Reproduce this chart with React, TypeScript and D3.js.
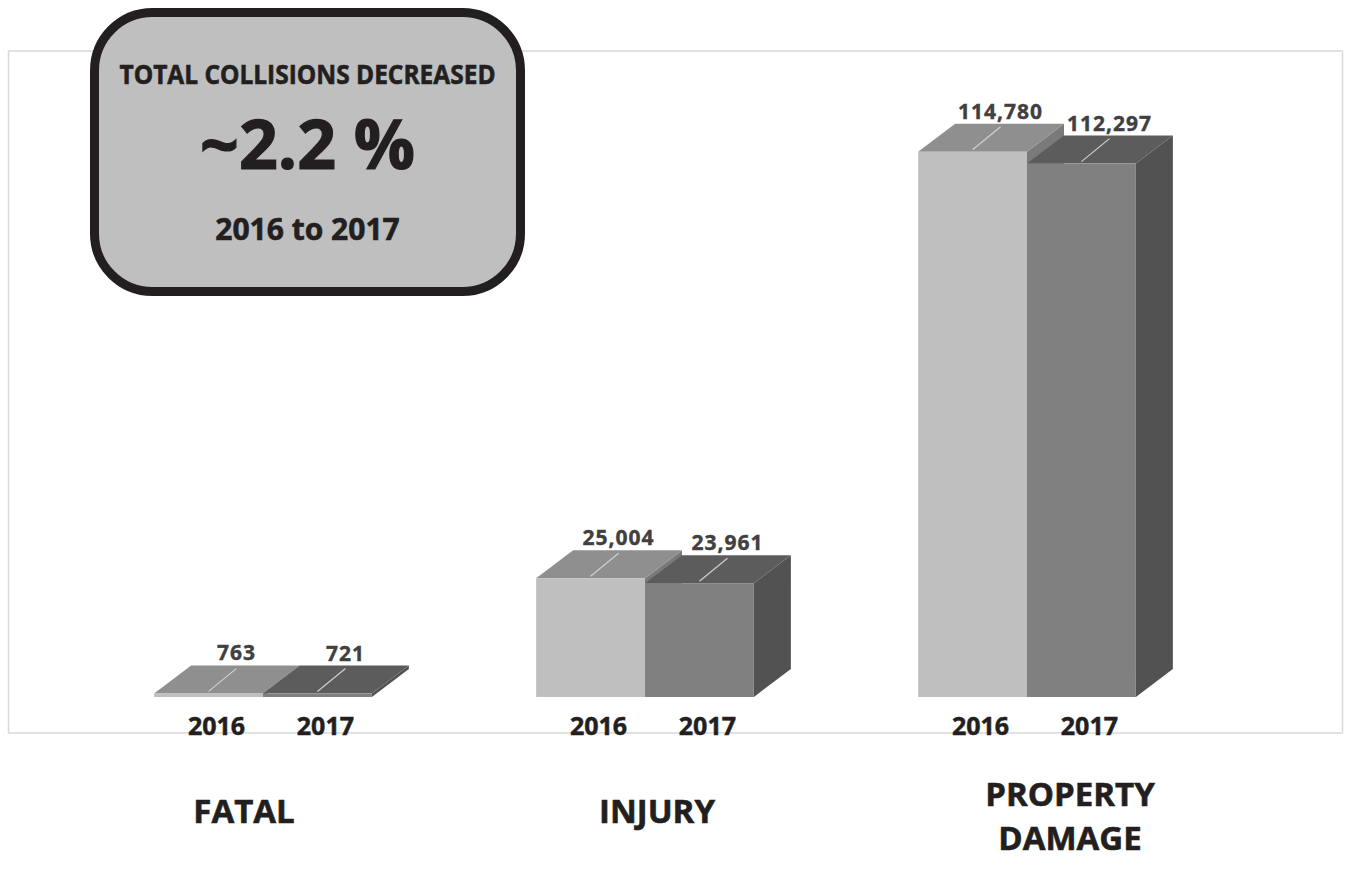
import React, { useEffect, useRef } from "react";
import * as d3 from "d3";

const categories = ["FATAL", "INJURY", "PROPERTY DAMAGE"];
const years = ["2016", "2017"];
const values2016 = [763, 25004, 114780];
const values2017 = [721, 23961, 112297];
const boxTitle = "TOTAL COLLISIONS DECREASED";
const boxValue = "~2.2 %";
const boxSub = "2016 to 2017";

const W = 1345;
const H = 876;

const App: React.FC = () => {
  const svgRef = useRef<SVGSVGElement | null>(null);

  useEffect(() => {
    document.body.style.margin = "0";
    if (!svgRef.current) return;
    const svg = d3.select(svgRef.current);
    svg.selectAll("*").remove();
    svg.attr("width", W).attr("height", H);

    const font = "'Open Sans', 'Noto Sans', sans-serif";
    const baseY = 697;
    const depthX = 37;
    const depthY = -28;

    // plot frame
    svg
      .append("rect")
      .attr("x", 8.5)
      .attr("y", 51)
      .attr("width", 1334)
      .attr("height", 682)
      .attr("fill", "#fff")
      .attr("stroke", "#d9d9d9")
      .attr("stroke-width", 1.5);

    const x = d3
      .scaleBand<string>()
      .domain(categories)
      .range([72, 1218])
      .paddingInner(0.43)
      .paddingOuter(0.215);
    const xIn = d3.scaleBand<string>().domain(years).range([0, x.bandwidth()]);
    const y = d3.scaleLinear().domain([0, 120000]).range([baseY, 127]);

    const styles = [
      { front: "#bfbfbf", top: "#8f8f8f", side: "#7a7a7a" },
      { front: "#808080", top: "#5b5c5b", side: "#525252" },
    ];

    const rows = categories.map((c, i) => ({
      cat: c,
      bars: [values2016[i], values2017[i]],
    }));

    const g = svg.append("g");
    rows.forEach((row) => {
      row.bars.forEach((v, j) => {
        const yr = years[j];
        const x0 = (x(row.cat) ?? 0) + (xIn(yr) ?? 0);
        const x1 = x0 + xIn.bandwidth();
        const yt = y(v);
        const st = styles[j];
        // side
        g.append("path")
          .attr(
            "d",
            `M${x1},${baseY}L${x1 + depthX},${baseY + depthY}L${x1 + depthX},${yt + depthY}L${x1},${yt}Z`
          )
          .attr("fill", st.side);
        // top
        g.append("path")
          .attr(
            "d",
            `M${x0},${yt}L${x0 + depthX},${yt + depthY}L${x1 + depthX},${yt + depthY}L${x1},${yt}Z`
          )
          .attr("fill", st.top);
        // front
        g.append("rect")
          .attr("x", x0)
          .attr("y", yt)
          .attr("width", x1 - x0)
          .attr("height", baseY - yt)
          .attr("fill", st.front);
      });
    });

    // value labels with leader lines
    rows.forEach((row) => {
      row.bars.forEach((v, j) => {
        const cx = (x(row.cat) ?? 0) + (xIn(years[j]) ?? 0) + xIn.bandwidth() / 2;
        const yt = y(v) - 2;
        g.append("line")
          .attr("x1", cx)
          .attr("y1", yt)
          .attr("x2", cx + 28)
          .attr("y2", yt - 23)
          .attr("stroke", "#d0d0d0")
          .attr("stroke-width", 1.2);
        g.append("text")
          .attr("x", cx + 28)
          .attr("y", yt - 31)
          .attr("text-anchor", "middle")
          .attr("font-family", font)
          .attr("font-weight", 700)
          .attr("font-size", 21)
          .attr("letter-spacing", 1)
          .attr("fill", "#404040")
          .attr("stroke", "#404040")
          .attr("stroke-width", 0.4)
          .text(d3.format(",")(v));
      });
    });

    // year labels
    rows.forEach((row) => {
      years.forEach((yr) => {
        const cx = (x(row.cat) ?? 0) + (xIn(yr) ?? 0) + xIn.bandwidth() / 2 + 8;
        svg
          .append("text")
          .attr("x", cx)
          .attr("y", 735)
          .attr("text-anchor", "middle")
          .attr("font-family", font)
          .attr("font-weight", 700)
          .attr("font-size", 25)
          .attr("fill", "#231f20")
          .attr("stroke", "#231f20")
          .attr("stroke-width", 0.5)
          .text(yr);
      });
    });

    // category labels
    const xc = d3.scalePoint<string>().domain(categories).range([244, 1070]);
    categories.forEach((c) => {
      const words = c === "PROPERTY DAMAGE" ? ["PROPERTY", "DAMAGE"] : [c];
      const t = svg
        .append("text")
        .attr("text-anchor", "middle")
        .attr("font-family", font)
        .attr("font-weight", 700)
        .attr("font-size", 33)
        .attr("fill", "#231f20")
        .attr("stroke", "#231f20")
        .attr("stroke-width", 0.6);
      words.forEach((w, k) => {
        t.append("tspan")
          .attr("x", xc(c) ?? 0)
          .attr("y", words.length === 1 ? 823 : 806 + k * 44)
          .text(w);
      });
    });

    // callout box
    const bx = 94.5;
    const by = 12.5;
    const bw = 426;
    const bh = 279;
    const bcx = bx + bw / 2;
    svg
      .append("rect")
      .attr("x", bx)
      .attr("y", by)
      .attr("width", bw)
      .attr("height", bh)
      .attr("rx", 58)
      .attr("ry", 58)
      .attr("fill", "#bfbfbf")
      .attr("stroke", "#231f20")
      .attr("stroke-width", 9);
    svg
      .append("text")
      .attr("x", bcx)
      .attr("y", 84)
      .attr("text-anchor", "middle")
      .attr("font-family", font)
      .attr("font-weight", 700)
      .attr("font-size", 26)
      .attr("textLength", 376)
      .attr("lengthAdjust", "spacingAndGlyphs")
      .attr("fill", "#231f20")
      .attr("stroke", "#231f20")
      .attr("stroke-width", 0.6)
      .text(boxTitle);
    svg
      .append("text")
      .attr("x", bcx)
      .attr("y", 169)
      .attr("text-anchor", "middle")
      .attr("font-family", font)
      .attr("font-weight", 700)
      .attr("font-size", 68)
      .attr("fill", "#231f20")
      .attr("stroke", "#231f20")
      .attr("stroke-width", 1.2)
      .text(boxValue);
    svg
      .append("text")
      .attr("x", bcx)
      .attr("y", 240)
      .attr("text-anchor", "middle")
      .attr("font-family", font)
      .attr("font-weight", 700)
      .attr("font-size", 30)
      .attr("fill", "#231f20")
      .attr("stroke", "#231f20")
      .attr("stroke-width", 0.6)
      .text(boxSub);
  }, []);

  return <svg ref={svgRef} style={{ display: "block" }}></svg>;
};

export default App;
